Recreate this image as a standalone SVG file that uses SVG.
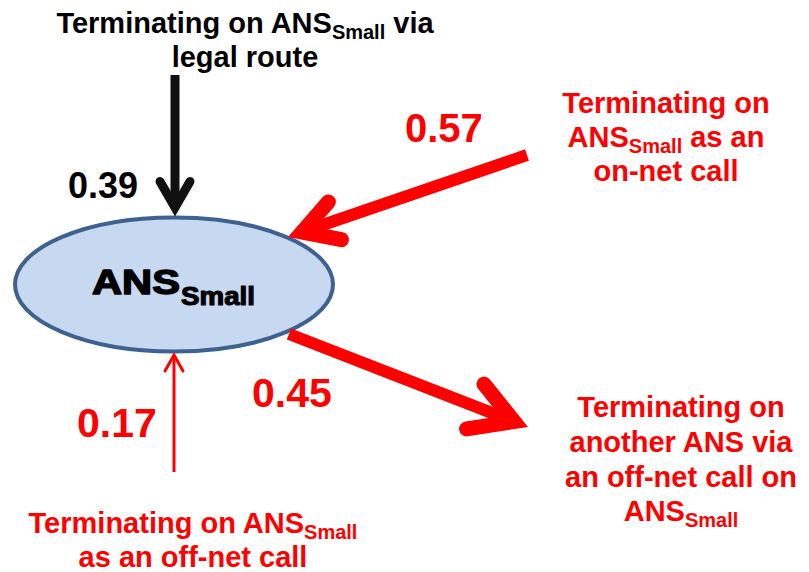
<svg xmlns="http://www.w3.org/2000/svg" width="809" height="572" viewBox="0 0 809 572">
  <style>
    .lbl { font-family: "Liberation Sans", Arial, sans-serif; font-weight: bold; font-size: 29px; text-anchor: middle; }
    .sub { font-size: 20px; }
    .num { font-family: "Liberation Sans", Arial, sans-serif; font-weight: bold; }
    .red { fill: #FF0000; }
    .blk { fill: #000000; }
    .shaft { fill: none; stroke-linecap: butt; }
    .head { fill: none; stroke-linecap: round; stroke-linejoin: miter; stroke-miterlimit: 6; }
  </style>

  <rect width="809" height="572" fill="#FFFFFF"/>

  <!-- central node -->
  <g id="node-ans-small">
    <ellipse cx="174" cy="284.5" rx="159" ry="67" fill="#C6D9F1" stroke="#3E6190" stroke-width="4"/>
    <text class="num blk" x="92" y="294" font-size="35" textLength="88" lengthAdjust="spacingAndGlyphs" stroke="#000" stroke-width="1.5" stroke-linejoin="round">ANS</text>
    <text class="num blk" x="181" y="305" font-size="25" textLength="74" lengthAdjust="spacingAndGlyphs" stroke="#000" stroke-width="1.1" stroke-linejoin="round">Small</text>
  </g>

  <!-- source / destination labels -->
  <g id="node-legal-route">
    <text class="lbl blk" x="245" y="33">Terminating on ANS<tspan class="sub" dy="6">Small</tspan><tspan dy="-6"> via</tspan></text>
    <text class="lbl blk" x="245" y="67">legal route</text>
  </g>

  <g id="node-on-net">
    <text class="lbl red" x="666" y="113">Terminating on</text>
    <text class="lbl red" x="666" y="147">ANS<tspan class="sub" dy="6">Small</tspan><tspan dy="-6"> as an</tspan></text>
    <text class="lbl red" x="666" y="181">on-net call</text>
  </g>

  <g id="node-off-net-in">
    <text class="lbl red" x="193" y="533">Terminating on ANS<tspan class="sub" dy="6">Small</tspan></text>
    <text class="lbl red" x="193" y="567">as an off-net call</text>
  </g>

  <g id="node-other-ans">
    <text class="lbl red" x="681" y="417">Terminating on</text>
    <text class="lbl red" x="681" y="452">another ANS via</text>
    <text class="lbl red" x="681" y="487">an off-net call on</text>
    <text class="lbl red" x="681" y="521">ANS<tspan class="sub" dy="6">Small</tspan></text>
  </g>

  <!-- flows with their shares -->
  <g id="connectors">
    <!-- legal route, 0.39 -->
    <line class="shaft" x1="175" y1="75" x2="175" y2="208" stroke="#111111" stroke-width="9"/>
    <polyline class="head" points="160,181.5 175,207.5 190,181.5" stroke="#111111" stroke-width="9"/>
    <text class="num blk" x="68" y="198" font-size="36">0.39</text>

    <!-- on-net call, 0.57 -->
    <line class="shaft" x1="527" y1="155" x2="302" y2="232" stroke="#FF0000" stroke-width="12"/>
    <polyline class="head" points="328.4,201.9 302.2,232.1 341.5,239.7" stroke="#FF0000" stroke-width="15"/>
    <text class="num red" x="405" y="142" font-size="40">0.57</text>

    <!-- off-net call in, 0.17 -->
    <line class="shaft" x1="174" y1="472" x2="174" y2="355" stroke="#FF0000" stroke-width="3"/>
    <polyline class="head" points="165,371 174,355 183,371" stroke="#FF0000" stroke-width="3"/>
    <text class="num red" x="77" y="437" font-size="41">0.17</text>

    <!-- off-net call out, 0.45 -->
    <line class="shaft" x1="289" y1="334" x2="514" y2="421.6" stroke="#FF0000" stroke-width="12"/>
    <polyline class="head" points="484,384.1 514,421.6 466.6,428.9" stroke="#FF0000" stroke-width="15"/>
    <text class="num red" x="252" y="407" font-size="41">0.45</text>
  </g>
</svg>
